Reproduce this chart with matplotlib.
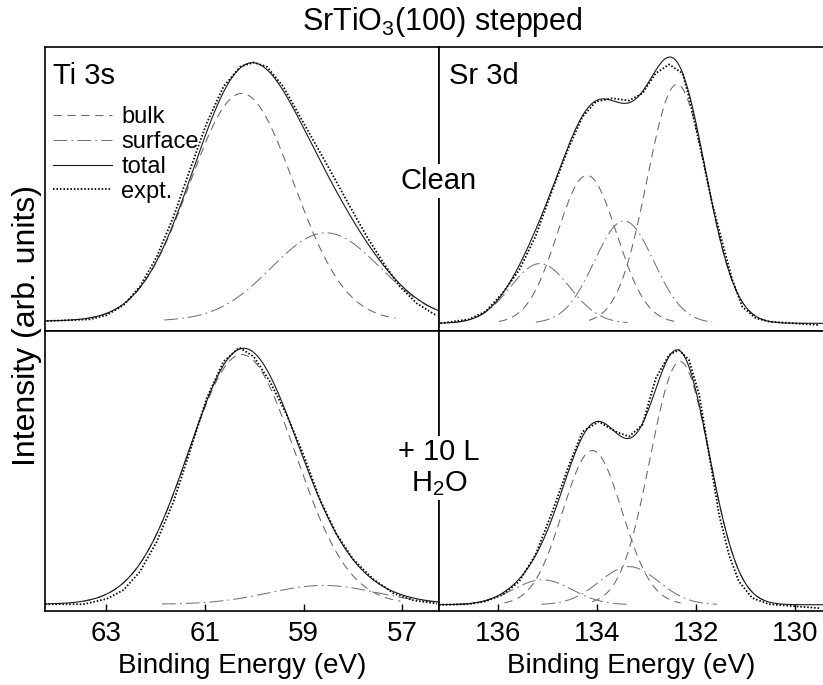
import numpy as np
import matplotlib.pyplot as plt

plt.rcParams['font.family'] = ['Liberation Sans', 'DejaVu Sans']
plt.rcParams['mathtext.default'] = 'regular'
plt.rcParams['lines.scale_dashes'] = False

# energy windows (eV), binding energy decreasing to the right
ti_xlim = (64.23, 56.26)
sr_xlim = (137.19, 129.43)
ti_ticks = [63, 61, 59, 57]
sr_ticks = [136, 134, 132, 130]

# fitted components: centre (eV), height above background, sigma (eV)
# Ti 3s: bulk, surface
ti_kind = ['bulk', 'surface']
ti_clean_base = 3.5
ti_clean_pos = [60.25, 58.55]
ti_clean_height = [80.0, 31.0]
ti_clean_sigma = [1.05, 1.10]

ti_h2o_base = 2.6
ti_h2o_pos = [60.25, 58.60]
ti_h2o_height = [89.0, 6.7]
ti_h2o_sigma = [1.08, 1.10]

# Sr 3d: bulk 5/2, bulk 3/2, surface 5/2, surface 3/2
sr_kind = ['bulk', 'bulk', 'surface', 'surface']
sr_clean_base = 2.7
sr_clean_pos = [132.38, 134.20, 133.45, 135.15]
sr_clean_height = [84.0, 52.0, 36.0, 21.0]
sr_clean_sigma = [0.60, 0.60, 0.60, 0.60]

sr_h2o_base = 2.4
sr_h2o_pos = [132.32, 134.09, 133.35, 135.10]
sr_h2o_height = [86.7, 55.0, 13.6, 8.9]
sr_h2o_sigma = [0.60, 0.60, 0.60, 0.60]

# measured spectra (expt.)
ti_clean_e = [64.19, 63.32, 62.98, 62.64, 62.31, 61.97, 61.63, 61.30, 60.96, 60.62, 60.28, 60.01,
              59.74, 59.41, 59.07, 58.73, 58.39, 58.06, 57.72, 57.38, 57.05, 56.71, 56.30]
ti_clean_i = [3.5, 4.1, 5.6, 9.1, 15.6, 26.1, 40.2, 56.6, 73.0, 85.9, 92.9, 94.4,
              92.9, 85.9, 75.3, 64.8, 54.2, 43.7, 33.2, 23.8, 15.6, 9.7, 5.3]

ti_h2o_e = [64.23, 63.45, 62.98, 62.64, 62.31, 61.97, 61.63, 61.30, 60.96, 60.62, 60.30, 60.01,
            59.68, 59.34, 59.00, 58.67, 58.33, 57.99, 57.59, 57.18, 56.78, 56.30]
ti_h2o_i = [2.6, 2.6, 4.5, 7.7, 14.2, 24.9, 39.2, 57.0, 76.0, 89.1, 94.1, 90.9,
            82.0, 70.1, 55.8, 40.0, 27.5, 18.5, 11.5, 6.5, 4.0, 2.8]

sr_clean_e = [137.16, 136.59, 136.25, 135.91, 135.57, 135.24, 134.90, 134.56, 134.29, 134.02,
              133.69, 133.35, 133.08, 132.81, 132.54, 132.27, 132.14, 131.87, 131.67, 131.46,
              131.26, 131.06, 130.79, 130.52, 129.51]
sr_clean_i = [2.7, 4.1, 6.8, 13.2, 21.4, 33.2, 49.6, 64.8, 75.3, 80.6,
              81.8, 81.0, 83.5, 90.6, 93.7, 90.6, 82.4, 61.3, 44.9, 30.8,
              17.9, 8.5, 4.5, 3.3, 2.1]

sr_h2o_e = [137.19, 136.59, 136.25, 135.91, 135.57, 135.24, 134.90, 134.56, 134.29, 133.96,
            133.62, 133.35, 133.08, 132.81, 132.54, 132.34, 132.14, 131.93, 131.73, 131.53,
            131.33, 131.13, 130.86, 130.52, 129.51]
sr_h2o_i = [2.4, 2.6, 3.6, 5.9, 10.7, 20.2, 35.6, 52.3, 64.1, 67.7,
            64.1, 62.4, 66.5, 83.1, 91.5, 93.2, 89.7, 77.2, 55.8, 34.5,
            20.2, 10.7, 4.8, 2.6, 1.2]

styles = {
    'bulk': dict(color='0.4', lw=0.75, dashes=(6, 4)),
    'surface': dict(color='0.45', lw=0.75, dashes=(10, 3, 1.2, 3)),
    'total': dict(color='0.1', lw=0.8, ls='-'),
    'expt': dict(color='black', lw=1.3, dashes=(1.1, 1.4)),
}


def draw_panel(ax, xlim, base, pos, height, sigma, kind, exp_e, exp_i):
    e = np.linspace(xlim[0], xlim[1], 500)
    total = np.full_like(e, base)
    handles = {}
    for c, h, s, k in zip(pos, height, sigma, kind):
        peak = h * np.exp(-(e - c) ** 2 / (2 * s ** 2))
        total += peak
        shown = np.where(peak > 0.012 * h, base + peak, np.nan)
        handles[k], = ax.plot(e, shown, **styles[k])
    handles['total'], = ax.plot(e, total, **styles['total'])
    handles['expt'], = ax.plot(exp_e, exp_i, **styles['expt'])
    ax.set_xlim(xlim)
    ax.set_ylim(0, 100)
    ax.set_yticks([])
    for sp in ax.spines.values():
        sp.set_linewidth(1.2)
    return handles


fig = plt.figure(figsize=(8.23, 6.85), dpi=100)
x0, xm, x1 = 0.0547, 0.5334, 1.0
y0, ym, y1 = 0.1073, 0.5168, 0.9321

ax_tc = fig.add_axes([x0, ym, xm - x0, y1 - ym])
ax_sc = fig.add_axes([xm, ym, x1 - xm, y1 - ym])
ax_th = fig.add_axes([x0, y0, xm - x0, ym - y0])
ax_sh = fig.add_axes([xm, y0, x1 - xm, ym - y0])

hd = draw_panel(ax_tc, ti_xlim, ti_clean_base, ti_clean_pos, ti_clean_height, ti_clean_sigma,
                ti_kind, ti_clean_e, ti_clean_i)
draw_panel(ax_sc, sr_xlim, sr_clean_base, sr_clean_pos, sr_clean_height, sr_clean_sigma,
           sr_kind, sr_clean_e, sr_clean_i)
draw_panel(ax_th, ti_xlim, ti_h2o_base, ti_h2o_pos, ti_h2o_height, ti_h2o_sigma,
           ti_kind, ti_h2o_e, ti_h2o_i)
draw_panel(ax_sh, sr_xlim, sr_h2o_base, sr_h2o_pos, sr_h2o_height, sr_h2o_sigma,
           sr_kind, sr_h2o_e, sr_h2o_i)

for ax in (ax_tc, ax_sc):
    ax.set_xticks([])
for ax, ticks in ((ax_th, ti_ticks), (ax_sh, sr_ticks)):
    ax.set_xticks(ticks)
    ax.tick_params(axis='x', direction='in', length=5, width=1.0, labelsize=20, pad=7)
    ax.set_xlabel('Binding Energy (eV)', fontsize=20, labelpad=4)
for ax in (ax_sc, ax_sh):
    ax.spines['right'].set_visible(False)

ax_tc.text(0.02, 0.945, 'Ti 3s', transform=ax_tc.transAxes, fontsize=21, va='top', ha='left')
ax_sc.text(0.026, 0.945, 'Sr 3d', transform=ax_sc.transAxes, fontsize=21, va='top', ha='left')

ax_tc.legend([hd['bulk'], hd['surface'], hd['total'], hd['expt']],
             ['bulk', 'surface', 'total', 'expt.'],
             loc='upper left', bbox_to_anchor=(0.02, 0.79), frameon=False, fontsize=17,
             handlelength=2.5, handletextpad=0.4, labelspacing=0.12,
             borderpad=0, borderaxespad=0)

fig.text(0.537, 1 - 22 / 685, 'SrTiO$_3$(100) stepped', fontsize=22, ha='center', va='center')
fig.text(0.033, 1 - 325 / 685, 'Intensity (arb. units)', fontsize=23, rotation=90,
         ha='center', va='center')
fig.text(xm, 1 - 181 / 685, 'Clean', fontsize=21, ha='center', va='center',
         bbox=dict(facecolor='white', edgecolor='none', pad=2))
fig.text(xm, 1 - 468 / 685, '+ 10 L\nH$_2$O', fontsize=21, ha='center', va='center',
         multialignment='center', linespacing=1.1,
         bbox=dict(facecolor='white', edgecolor='none', pad=2))

fig.savefig('out.png', dpi=100)
